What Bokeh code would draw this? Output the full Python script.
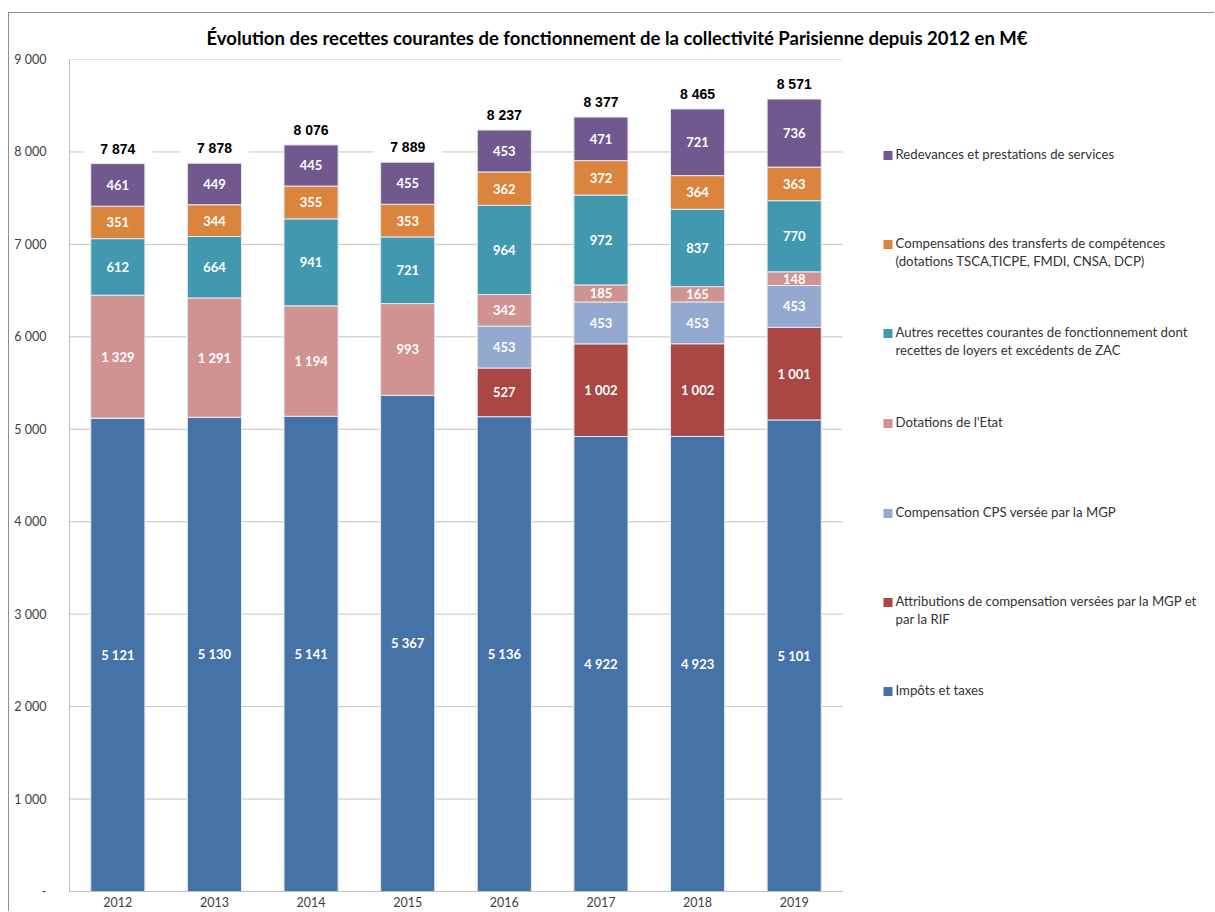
from bokeh.plotting import figure
from bokeh.models import (ColumnDataSource, Range1d, Label, BoxAnnotation, Title,
                          CustomJSTickFormatter, FixedTicker)
from bokeh.core.properties import value
from bokeh.embed import file_html
from bokeh.resources import INLINE

# ---------------- data ----------------
years = ["2012", "2013", "2014", "2015", "2016", "2017", "2018", "2019"]
impots = [5121, 5130, 5141, 5367, 5136, 4922, 4923, 5101]
attributions = [0, 0, 0, 0, 527, 1002, 1002, 1001]
cps = [0, 0, 0, 0, 453, 453, 453, 453]
dotations = [1329, 1291, 1194, 993, 342, 185, 165, 148]
autres = [612, 664, 941, 721, 964, 972, 837, 770]
compensations = [351, 344, 355, 353, 362, 372, 364, 363]
redevances = [461, 449, 445, 455, 453, 471, 721, 736]
totals = [7874, 7878, 8076, 7889, 8237, 8377, 8465, 8571]
y_ticks = [0, 1000, 2000, 3000, 4000, 5000, 6000, 7000, 8000, 9000]

series_keys = ["impots", "attributions", "cps", "dotations", "autres", "compensations", "redevances"]
series_values = [impots, attributions, cps, dotations, autres, compensations, redevances]
series_labels = [
    "Impôts et taxes",
    "Attributions de compensation versées par la MGP et\npar la RIF",
    "Compensation CPS versée par la MGP",
    "Dotations de l'Etat",
    "Autres recettes courantes de fonctionnement dont\nrecettes de loyers et excédents de ZAC",
    "Compensations des transferts de compétences\n(dotations TSCA,TICPE, FMDI, CNSA, DCP)",
    "Redevances et prestations de services",
]
series_colors = ["#4572A7", "#AA4643", "#93A9CF", "#D19392", "#4198AF", "#DB843D", "#71588F"]
title_text = "Évolution des recettes courantes de fonctionnement de la collectivité Parisienne depuis 2012 en M€"


def fmt(v):
    return f"{int(round(v)):,}".replace(",", " ")


# ---------------- layout (window pixels) ----------------
OX, OY = 9, 13          # canvas origin inside the outer chart border
W, H = 1215 - OX, 912 - OY
FL, FB = 69 - OX, 891 - OY     # frame left / bottom on the canvas
FT = 58 - OY                   # frame top
BAR_AREA_RIGHT = 842 - OX      # right end of the category axis
n = len(years)
x_end = n * (W - FL) / (BAR_AREA_RIGHT - FL)   # frame also hosts the legend area
xc = [i + 0.5 for i in range(n)]               # category centres

p = figure(width=W, height=H,
           x_range=Range1d(0, x_end), y_range=Range1d(0, 9000),
           output_backend="svg", toolbar_location=None,
           min_border_left=FL, min_border_right=0,
           min_border_top=FT, min_border_bottom=H - FB,
           margin=(OY - 1, 0, 0, OX - 1),
           styles={"border-top": "1px solid #8e8e8e", "border-left": "1px solid #8e8e8e"})
p.outline_line_color = None
p.background_fill_color = "white"
p.border_fill_color = "white"

# horizontal grid lines limited to the category area
p.xgrid.grid_line_color = None
p.ygrid.grid_line_color = None
p.segment(x0=[0] * (len(y_ticks) - 1), x1=[n] * (len(y_ticks) - 1),
          y0=y_ticks[1:], y1=y_ticks[1:], line_color="#c4c4c4", line_width=1, level="underlay")

src = ColumnDataSource(dict(x=xc, **{k: v for k, v in zip(series_keys, series_values)}))
p.vbar_stack(series_keys, x="x", width=0.56, fill_color=series_colors,
             line_color="#e6e8f2", line_width=1, source=src)

# values inside segments
lx, ly, lt = [], [], []
for i in range(n):
    base = 0
    for arr in series_values:
        v = arr[i]
        if v > 0:
            lx.append(xc[i])
            ly.append(base + v / 2)
            lt.append(fmt(v))
        base += v
p.text(x=lx, y=ly, text=lt, text_color="white", text_font=value("Lato"),
       text_font_style="bold", text_font_size="13px",
       text_align="center", text_baseline="middle")

# totals
p.text(x=xc, y=totals, text=[fmt(t) for t in totals], text_color="black",
       text_font=value("Liberation Sans"), text_font_style="bold", text_font_size="14px",
       text_align="center", text_baseline="bottom", y_offset=-5,
       background_fill_color="white", padding=(17, 2))

# axes
p.yaxis.ticker = FixedTicker(ticks=y_ticks)
p.yaxis.formatter = CustomJSTickFormatter(code="""
    if (tick == 0) { return "-"; }
    return String(Math.round(tick)).replace(/\\B(?=(\\d{3})+(?!\\d))/g, " ");
""")
p.yaxis.major_tick_out = 0
p.yaxis.major_tick_in = 0
p.yaxis.minor_tick_out = 0
p.yaxis.minor_tick_in = 0
p.yaxis.axis_line_color = "#bfbfbf"
p.yaxis.major_label_standoff = 23
p.yaxis.major_label_text_font = "Lato"
p.yaxis.major_label_text_font_size = "12.5px"
p.yaxis.major_label_text_color = "#404040"

p.xaxis.ticker = FixedTicker(ticks=xc)
p.xaxis.major_label_overrides = {c: y for c, y in zip(xc, years)}
p.xaxis.bounds = (0, n)
p.xaxis.major_tick_out = 0
p.xaxis.major_tick_in = 0
p.xaxis.minor_tick_out = 0
p.xaxis.minor_tick_in = 0
p.xaxis.axis_line_color = "#bfbfbf"
p.xaxis.major_label_standoff = 5
p.xaxis.major_label_text_font = "Lato"
p.xaxis.major_label_text_font_size = "12.5px"
p.xaxis.major_label_text_color = "#404040"

# title
p.add_layout(Title(text=title_text, align="left", offset=137, standoff=22,
                   text_font="Lato", text_font_style="bold", text_font_size="18.5px",
                   text_color="black"), "above")


# legend (top to bottom: reverse of the stacking order), frame-relative screen units
def sx(X):
    return X - 69


def sy(Y):
    return 891 - Y


leg_first_y = [155, 244, 333, 423, 513, 602, 691]
line_gap = 18
for k, (lab, col) in enumerate(zip(series_labels[::-1], series_colors[::-1])):
    Yc = leg_first_y[k]
    p.add_layout(BoxAnnotation(left=sx(883), right=sx(892), top=sy(Yc - 4.5), bottom=sy(Yc + 4.5),
                               left_units="screen", right_units="screen",
                               top_units="screen", bottom_units="screen",
                               fill_color=col, fill_alpha=1, line_color=None))
    for j, line in enumerate(lab.split("\n")):
        p.add_layout(Label(x=sx(895), y=sy(Yc - 1.5 + j * line_gap), x_units="screen", y_units="screen",
                           text=line, text_align="left", text_baseline="middle",
                           text_font="Lato", text_font_size="13.2px", text_color="#333333"))

open("out.html", "w").write(file_html(p, INLINE))
